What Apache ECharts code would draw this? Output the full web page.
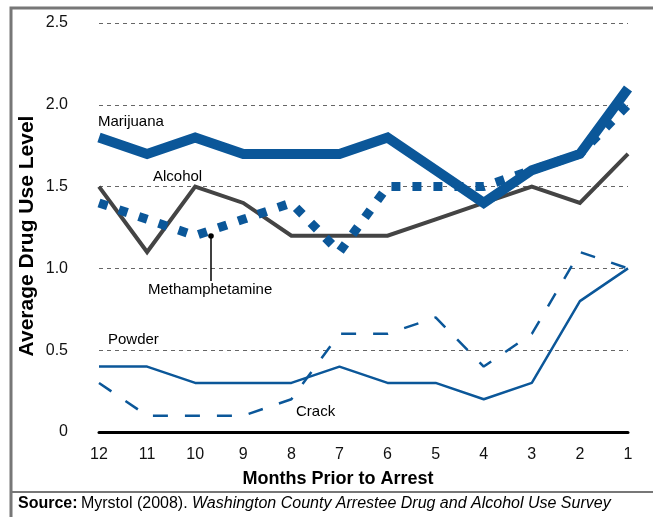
<!DOCTYPE html>
<html>
<head>
<meta charset="utf-8">
<script src="https://cdn.jsdelivr.net/npm/echarts@6/dist/echarts.min.js"></script>
<style>
  html, body { margin: 0; padding: 0; background: #fff; }
  #chart { width: 653px; height: 517px; }
</style>
</head>
<body>
<div id="chart"></div>
<script>
// 数据
var months = ["12", "11", "10", "9", "8", "7", "6", "5", "4", "3", "2", "1"];
var marijuana = [1.8, 1.7, 1.8, 1.7, 1.7, 1.7, 1.8, 1.6, 1.4, 1.6, 1.7, 2.1];
var alcohol = [1.5, 1.1, 1.5, 1.4, 1.2, 1.2, 1.2, 1.3, 1.4, 1.5, 1.4, 1.7];
var meth = [1.4, 1.3, 1.2, 1.3, 1.4, 1.1, 1.5, 1.5, 1.5, 1.6, 1.7, 2.0];
var powder = [0.4, 0.4, 0.3, 0.3, 0.3, 0.4, 0.3, 0.3, 0.2, 0.3, 0.8, 1.0];
var crack = [0.3, 0.1, 0.1, 0.1, 0.2, 0.6, 0.6, 0.7, 0.4, 0.6, 1.1, 1.0];

var blue = "#0b5799";
var font = "Liberation Sans, Arial, Helvetica, sans-serif";

var myChart = echarts.init(document.getElementById("chart"));
var option = {
  animation: false,
  textStyle: { fontFamily: font },
  grid: { left: 99, right: 25, top: 23, bottom: 85 },
  xAxis: {
    type: "category",
    boundaryGap: false,
    data: months,
    axisTick: { show: false },
    axisLine: { lineStyle: { color: "#000", width: 3 } },
    axisLabel: { color: "#111", fontSize: 16, margin: 15, fontFamily: font }
  },
  yAxis: {
    type: "value",
    min: 0,
    max: 2.5,
    interval: 0.5,
    axisLine: { show: false },
    axisTick: { show: false },
    axisLabel: {
      color: "#111", fontSize: 16, margin: 31, fontFamily: font,
      formatter: function (v) { return v === 0 ? "0" : v.toFixed(1); }
    },
    splitLine: { lineStyle: { color: "#666", width: 1, type: [4, 4] } }
  },
  series: [
    {
      name: "Crack", type: "line", data: crack, symbol: "none",
      lineStyle: { color: blue, width: 2.5, type: [15, 17] }
    },
    {
      name: "Powder", type: "line", data: powder, symbol: "none",
      lineStyle: { color: blue, width: 2.5 }
    },
    {
      name: "Alcohol", type: "line", data: alcohol, symbol: "none",
      lineStyle: { color: "#444", width: 4, join: "miter" }
    },
    {
      name: "Methamphetamine", type: "line", data: meth, symbol: "none",
      lineStyle: { color: blue, width: 9, type: [9, 12], cap: "butt" }
    },
    {
      name: "Marijuana", type: "line", data: marijuana, symbol: "none",
      lineStyle: { color: blue, width: 10, join: "miter" }
    }
  ],
  graphic: [
    // 外框
    { type: "rect", shape: { x: 11, y: 8, width: 700, height: 600 },
      style: { fill: "none", stroke: "#777", lineWidth: 3 }, z: 100 },
    { type: "line", shape: { x1: 11, y1: 492, x2: 653, y2: 492 },
      style: { stroke: "#777", lineWidth: 2 }, z: 100 },
    // 坐标轴标题
    { type: "text", x: 338, y: 479,
      style: { text: "Months Prior to Arrest", fontSize: 18, fontWeight: "bold", fill: "#000",
               fontFamily: font, textAlign: "center", textVerticalAlign: "middle" } },
    { type: "text", x: 27, y: 236, rotation: Math.PI / 2,
      style: { text: "Average Drug Use Level", fontSize: 21, fontWeight: "bold", fill: "#000",
               fontFamily: font, textAlign: "center", textVerticalAlign: "middle" } },
    // 系列标签
    { type: "text", left: 98, top: 114, style: { text: "Marijuana", fontSize: 15, fill: "#000", fontFamily: font } },
    { type: "text", left: 153, top: 169, style: { text: "Alcohol", fontSize: 15, fill: "#000", fontFamily: font } },
    { type: "text", left: 148, top: 282, style: { text: "Methamphetamine", fontSize: 15, fill: "#000", fontFamily: font } },
    { type: "text", left: 108, top: 332, style: { text: "Powder", fontSize: 15, fill: "#000", fontFamily: font } },
    { type: "text", left: 296, top: 404, style: { text: "Crack", fontSize: 15, fill: "#000", fontFamily: font } },
    { type: "line", shape: { x1: 211, y1: 236, x2: 211, y2: 281 }, style: { stroke: "#000", lineWidth: 1.5 }, z: 50 },
    { type: "circle", shape: { cx: 211, cy: 236, r: 2.8 }, style: { fill: "#000" }, z: 50 },
    // 来源
    {
      type: "text", left: 18, top: 496,
      style: {
        text: "{b|Source:} {n|Myrstol (2008). }{i|Washington County Arrestee Drug and Alcohol Use Survey}",
        rich: {
          b: { fontSize: 16, fontWeight: "bold", fontFamily: font, fill: "#000" },
          n: { fontSize: 16, fontFamily: font, fill: "#000" },
          i: { fontSize: 16, fontStyle: "italic", fontFamily: font, fill: "#000" }
        }
      }
    }
  ]
};
myChart.setOption(option);
</script>
</body>
</html>
